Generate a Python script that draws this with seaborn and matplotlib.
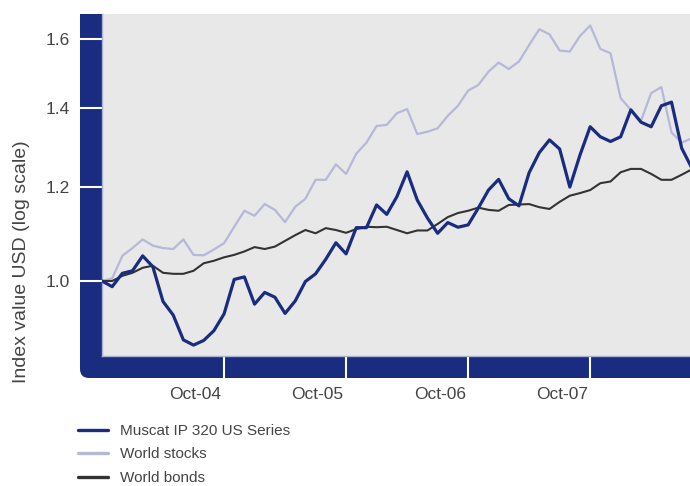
import matplotlib
matplotlib.use("Agg")
import matplotlib.pyplot as plt
from matplotlib.patches import FancyBboxPatch, Rectangle
from matplotlib.transforms import IdentityTransform
from matplotlib.ticker import FixedLocator, NullLocator, FixedFormatter
import seaborn as sns
import pandas as pd

# monthly index values, month 0 = start of series (= 1.0)
muscat = [1.000, 0.989, 1.015, 1.020, 1.050, 1.028, 0.961, 0.936, 0.892, 0.883,
          0.891, 0.908, 0.938, 1.003, 1.008, 0.956, 0.978, 0.969, 0.939, 0.962,
          0.999, 1.014, 1.043, 1.077, 1.054, 1.109, 1.109, 1.159, 1.138, 1.178,
          1.236, 1.170, 1.130, 1.097, 1.120, 1.110, 1.115, 1.152, 1.193, 1.218,
          1.173, 1.157, 1.234, 1.283, 1.315, 1.292, 1.200, 1.277, 1.349, 1.323,
          1.311, 1.323, 1.394, 1.361, 1.349, 1.405, 1.415, 1.294, 1.245]
stocks = [1.000, 1.005, 1.050, 1.066, 1.084, 1.071, 1.066, 1.064, 1.084, 1.052,
          1.051, 1.063, 1.076, 1.111, 1.146, 1.135, 1.161, 1.148, 1.121, 1.155,
          1.173, 1.217, 1.217, 1.254, 1.231, 1.280, 1.308, 1.351, 1.354, 1.385,
          1.396, 1.330, 1.336, 1.345, 1.378, 1.405, 1.447, 1.463, 1.501, 1.528,
          1.509, 1.531, 1.581, 1.630, 1.614, 1.564, 1.561, 1.609, 1.642, 1.569,
          1.556, 1.426, 1.394, 1.365, 1.440, 1.457, 1.334, 1.308, 1.319]
bonds = [1.000, 1.000, 1.010, 1.016, 1.026, 1.030, 1.016, 1.014, 1.014, 1.020,
         1.035, 1.040, 1.047, 1.052, 1.059, 1.068, 1.064, 1.069, 1.081, 1.093,
         1.104, 1.097, 1.108, 1.104, 1.098, 1.106, 1.111, 1.110, 1.111, 1.104,
         1.097, 1.103, 1.103, 1.117, 1.132, 1.141, 1.146, 1.153, 1.148, 1.146,
         1.159, 1.160, 1.161, 1.154, 1.150, 1.166, 1.180, 1.186, 1.193, 1.209,
         1.213, 1.235, 1.243, 1.243, 1.231, 1.217, 1.217, 1.229, 1.242]
months = list(range(len(muscat)))

x_labels = ["Oct-04", "Oct-05", "Oct-06", "Oct-07"]
x_label_pos = [9.2, 21.2, 33.2, 45.2]
x_sep_pos = [12, 24, 36, 48]
y_ticks = [1.0, 1.2, 1.4, 1.6]

NAVY = "#1a2c7f"
LAV = "#b5b8d8"
DARK = "#333333"
TXT = "#444444"

sns.set_style("white")
plt.rcParams["font.family"] = ["Liberation Sans", "DejaVu Sans"]

df = pd.DataFrame({"month": months, "muscat": muscat, "stocks": stocks, "bonds": bonds})

fig = plt.figure(figsize=(6.9, 4.86), dpi=100)

# navy L-shaped frame with rounded bottom-left corner (pixel coords)
frame = FancyBboxPatch((80, 108), 640, 364, boxstyle="round,pad=0,rounding_size=9",
                       transform=IdentityTransform(), facecolor=NAVY, edgecolor="none",
                       zorder=-5)
fig.patches.append(frame)
fig.patches.append(Rectangle((80, 200), 30, 272, transform=IdentityTransform(),
                             facecolor=NAVY, edgecolor="none", zorder=-4))

ax = fig.add_axes([102 / 690, 130 / 486, 588 / 690, 342 / 486])
ax.set_facecolor("#e8e8e8")

sns.lineplot(data=df, x="month", y="stocks", ax=ax, color=LAV, linewidth=1.6,
             label="World stocks", zorder=2)
sns.lineplot(data=df, x="month", y="bonds", ax=ax, color=DARK, linewidth=1.5,
             label="World bonds", zorder=3)
sns.lineplot(data=df, x="month", y="muscat", ax=ax, color=NAVY, linewidth=2.3,
             label="Muscat IP 320 US Series", zorder=4)

ax.set_yscale("log")
ax.set_ylim(0.8645, 1.679)
ax.set_xlim(0, 588 / 10.17)

ax.yaxis.set_major_locator(FixedLocator(y_ticks))
ax.yaxis.set_major_formatter(FixedFormatter([f"{v:.1f}" for v in y_ticks]))
ax.yaxis.set_minor_locator(NullLocator())
ax.tick_params(axis="y", which="major", direction="out", length=15.8, width=1.5,
               color="white", pad=7.2, labelsize=12.5, labelcolor=TXT, left=True)

ax.xaxis.set_major_locator(FixedLocator(x_label_pos))
ax.xaxis.set_major_formatter(FixedFormatter(x_labels))
ax.xaxis.set_minor_locator(FixedLocator(x_sep_pos))
ax.tick_params(axis="x", which="major", length=0, pad=22.5, labelsize=12.5,
               labelcolor=TXT)
ax.tick_params(axis="x", which="minor", direction="out", length=15.8, width=1.5,
               color="white", bottom=True)

for side in ["top", "right"]:
    ax.spines[side].set_visible(False)
for side in ["left", "bottom"]:
    ax.spines[side].set_color("#aab0d4")
    ax.spines[side].set_linewidth(1.0)

ax.set_xlabel("")
ax.set_ylabel("")
fig.text(22 / 690, 1 - 262 / 486, "Index value USD (log scale)", rotation=90,
         ha="center", va="center", fontsize=14, color=TXT)

# legend sits below the frame; its last row runs off the bottom edge as in the source
handles, labels = ax.get_legend_handles_labels()
order = [2, 0, 1]
leg = ax.legend([handles[i] for i in order], [labels[i] for i in order],
                loc="upper left", bbox_to_anchor=(78 / 690, 62 / 486),
                bbox_transform=fig.transFigure, frameon=False, fontsize=11,
                borderpad=0, borderaxespad=0, handlelength=1.96, handletextpad=0.78,
                labelspacing=0.62, labelcolor=TXT)
for line in leg.get_lines():
    line.set_linewidth(2.4)

fig.savefig("out.png", dpi=100)
